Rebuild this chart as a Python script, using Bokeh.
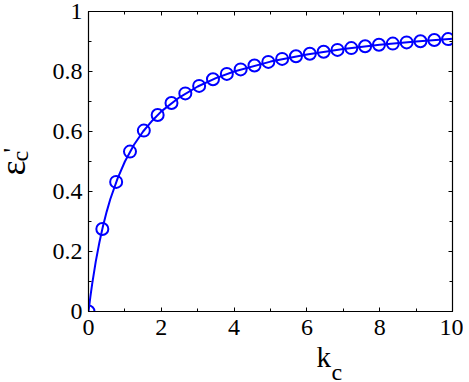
from bokeh.plotting import figure
from bokeh.layouts import row, column
from bokeh.models import Range1d, LinearAxis, Label, FixedTicker, CustomJSTickFormatter
from bokeh.embed import file_html
from bokeh.resources import INLINE
import math

# marker samples
k_pts = [0, 0.38, 0.76, 1.14, 1.52, 1.90, 2.28, 2.66, 3.04, 3.42, 3.80, 4.18, 4.56, 4.94,
         5.32, 5.70, 6.08, 6.46, 6.84, 7.22, 7.60, 7.98, 8.36, 8.74, 9.12, 9.50, 9.88]
eps_pts = [0, 0.275, 0.432, 0.533, 0.603, 0.655, 0.695, 0.727, 0.752, 0.774, 0.792, 0.807,
           0.820, 0.832, 0.842, 0.851, 0.859, 0.866, 0.872, 0.878, 0.884, 0.889, 0.893,
           0.897, 0.901, 0.905, 0.908]
# smooth curve
k_line = [0, 0.05, 0.1, 0.2, 0.3, 0.4, 0.5, 0.6, 0.8, 1.0, 1.25, 1.5, 1.75, 2.0, 2.5, 3.0,
          3.5, 4.0, 5.0, 6.0, 7.0, 8.0, 9.0, 10.0]
eps_line = [0, 0.048, 0.091, 0.167, 0.231, 0.286, 0.333, 0.375, 0.444, 0.5, 0.556, 0.6,
            0.636, 0.667, 0.714, 0.75, 0.778, 0.8, 0.833, 0.857, 0.875, 0.889, 0.9, 0.909]
x_ticks = [0, 2, 4, 6, 8, 10]
y_ticks = [0, 0.2, 0.4, 0.6, 0.8, 1]
x_minor = [1, 3, 5, 7, 9]
y_minor = [0.1, 0.3, 0.5, 0.7, 0.9]

FONT = "Liberation Serif"
BLUE = "#0000FF"
LW = 30          # width of y-label strip
MW, MH = 433, 345  # main figure
XH = 37          # height of x-label strip

p = figure(width=MW, height=MH, output_backend="svg", toolbar_location=None,
           x_range=Range1d(0, 10), y_range=Range1d(0, 1),
           min_border_left=58, min_border_right=11, min_border_top=11, min_border_bottom=34,
           x_axis_location=None, y_axis_location=None)
p.grid.visible = False
p.outline_line_color = "black"
p.outline_line_width = 1.2
p.background_fill_color = "white"
p.border_fill_color = "white"

def make_axis(ticks, minor, labels):
    ax = LinearAxis(ticker=FixedTicker(ticks=ticks, minor_ticks=minor))
    ax.major_tick_in = 4
    ax.major_tick_out = 0
    ax.minor_tick_in = 3
    ax.minor_tick_out = 0
    ax.axis_line_color = "black"
    ax.major_tick_line_color = "black"
    ax.minor_tick_line_color = "black"
    ax.major_label_text_font = FONT
    ax.major_label_text_font_size = "24px"
    ax.major_label_text_color = "black"
    if not labels:
        ax.formatter = CustomJSTickFormatter(code="return ''")
        ax.major_label_standoff = 0
    return ax

xb = make_axis(x_ticks, x_minor, True)
xb.major_label_standoff = 8
yl = make_axis(y_ticks, y_minor, True)
yl.major_label_standoff = 6
p.add_layout(xb, "below")
p.add_layout(yl, "left")
p.add_layout(make_axis(x_ticks, x_minor, False), "above")
p.add_layout(make_axis(y_ticks, y_minor, False), "right")

p.line(k_line, eps_line, line_color=BLUE, line_width=2)
p.scatter(k_pts, eps_pts, marker="circle", size=12, fill_color=None,
          line_color=BLUE, line_width=2)

def strip(w, h):
    f = figure(width=w, height=h, output_backend="svg", toolbar_location=None,
               x_range=Range1d(0, 1), y_range=Range1d(0, 1),
               min_border=0, x_axis_location=None, y_axis_location=None)
    f.grid.visible = False
    f.outline_line_color = None
    f.background_fill_color = "white"
    f.border_fill_color = "white"
    return f

def lab(f, x, y, text, size, angle=0.0):
    f.add_layout(Label(x=x, y=y, x_units="screen", y_units="screen", text=text,
                       text_font=FONT, text_font_size=size, text_align="left",
                       text_baseline="alphabetic", angle=angle, text_color="black"))

# x label k_c  (+11 px correction for baseline placement)
xf = strip(MW, XH)
lab(xf, 258 - LW, MH + XH - 367 + 11, "k", "29px")
lab(xf, 273 - LW, MH + XH - 380 + 9, "c", "24px")

# y label eps_c'
yf = strip(LW, MH)
lab(yf, 25 - 13, MH - 175, "ε", "36px", math.pi / 2)
lab(yf, 28 - 9, MH - 161, "c", "24px", math.pi / 2)
lab(yf, 22 - 10, MH - 152, "'", "26px", math.pi / 2)

layout = row(yf, column(p, xf, spacing=0), spacing=0)
open("out.html", "w").write(file_html(layout, INLINE))
